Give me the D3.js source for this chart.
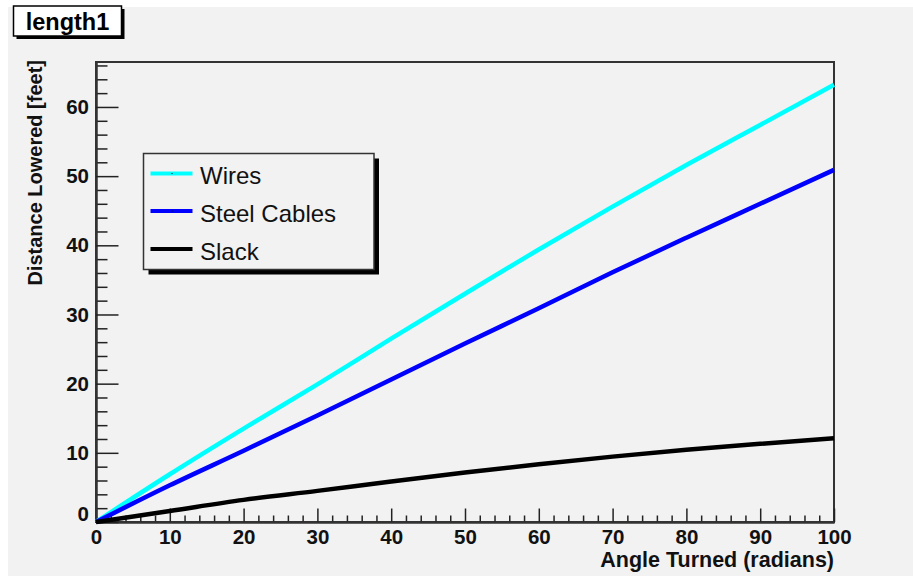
<!DOCTYPE html>
<html>
<head>
<meta charset="utf-8">
<script src="https://cdn.jsdelivr.net/npm/d3@7"></script>
<style>
  html, body { margin: 0; padding: 0; background: #fff; }
  svg { display: block; font-family: "Liberation Sans", Arial, Helvetica, sans-serif; }
</style>
</head>
<body>
<script>
// Angle turned (radians) at which each curve was sampled
const angle = [0, 10, 20, 30, 40, 50, 60, 70, 80, 90, 100];
// Distance lowered (feet)
const wires = [0, 6.9, 13.5, 19.9, 26.5, 33.0, 39.4, 45.6, 51.6, 57.4, 63.2];
const steelCables = [0, 5.3, 10.3, 15.4, 20.6, 25.8, 30.9, 36.1, 41.1, 46.0, 50.9];
const slack = [0, 1.6, 3.2, 4.5, 5.85, 7.15, 8.35, 9.45, 10.45, 11.3, 12.1];

const seriesNames = ["Wires", "Steel Cables", "Slack"];
const seriesColors = ["#00ffff", "#0000ff", "#000000"];
const seriesValues = [wires, steelCables, slack];

const xMajorTicks = [0, 10, 20, 30, 40, 50, 60, 70, 80, 90, 100];
const yMajorTicks = [0, 10, 20, 30, 40, 50, 60];
const titleText = "length1";
const xTitle = "Angle Turned (radians)";
const yTitle = "Distance Lowered [feet]";

const W = 913, H = 576;
const frame = { left: 96, right: 834, top: 62, bottom: 522 };

const svg = d3.select("body").append("svg").attr("width", W).attr("height", H);

// canvas
svg.append("rect").attr("width", W).attr("height", H).attr("fill", "#fff");
svg.append("rect").attr("x", 8).attr("y", 7).attr("width", W - 8).attr("height", H - 7).attr("fill", "#f2f2f2");

const x = d3.scaleLinear().domain([0, 100]).range([frame.left, frame.right]);
const y = d3.scaleLinear().domain([0, 66.5]).range([frame.bottom, frame.top]);

// frame border
svg.append("rect")
  .attr("x", frame.left).attr("y", frame.top)
  .attr("width", frame.right - frame.left).attr("height", frame.bottom - frame.top)
  .attr("fill", "none").attr("stroke", "#333").attr("stroke-width", 2);

// minor ticks every 2 units
const xMinor = d3.range(0, 101, 2).filter(v => v % 10 !== 0);
const yMinor = d3.range(0, 67, 2).filter(v => v % 10 !== 0);

const gx = svg.append("g").attr("transform", `translate(0,${frame.bottom})`);
gx.append("g").call(d3.axisBottom(x).tickValues(xMinor).tickFormat("").tickSizeInner(-6.5).tickSizeOuter(0));
gx.append("g").attr("class", "major")
  .call(d3.axisBottom(x).tickValues(xMajorTicks).tickFormat(d3.format("d")).tickSizeInner(-13.5).tickSizeOuter(0).tickPadding(7));

const gy = svg.append("g").attr("transform", `translate(${frame.left},0)`);
gy.append("g").call(d3.axisLeft(y).tickValues(yMinor).tickFormat("").tickSizeInner(-11.5).tickSizeOuter(0));
gy.append("g").attr("class", "major")
  .call(d3.axisLeft(y).tickValues(yMajorTicks).tickFormat(d3.format("d")).tickSizeInner(-22.5).tickSizeOuter(0).tickPadding(7));

svg.selectAll(".domain").attr("stroke", "#333").attr("stroke-width", 2);
svg.selectAll(".tick line").attr("stroke", "#222").attr("stroke-width", 1.5);
svg.selectAll(".major text")
  .attr("font-size", 20.5).attr("font-weight", "bold").attr("fill", "#111")
  .attr("font-family", "'Liberation Sans', Arial, sans-serif");
// the origin label on the y axis sits a little above the x axis labels
gy.select(".major").selectAll(".tick").filter(d => d === 0).select("text").attr("dy", "-0.05em");

// curves
const line = d3.line().x((d, i) => x(angle[i])).y(d => y(d)).curve(d3.curveMonotoneX);
seriesValues.forEach((vals, k) => {
  svg.append("path")
    .datum(vals)
    .attr("d", line)
    .attr("fill", "none")
    .attr("stroke", seriesColors[k])
    .attr("stroke-width", 4.5)
    .attr("stroke-linejoin", "round");
});

// axis titles
svg.append("text")
  .attr("x", frame.right).attr("y", 567)
  .attr("text-anchor", "end")
  .attr("font-size", 21.5).attr("font-weight", "bold").attr("fill", "#111")
  .text(xTitle);

svg.append("text")
  .attr("transform", `translate(42,${frame.top - 2}) rotate(-90)`)
  .attr("text-anchor", "end")
  .attr("font-size", 20).attr("font-weight", "bold").attr("fill", "#111")
  .text(yTitle);

// title box
const tb = { x: 13.5, y: 6, w: 108, h: 30 };
svg.append("rect").attr("x", tb.x + 3).attr("y", tb.y + 3).attr("width", tb.w).attr("height", tb.h).attr("fill", "#000");
svg.append("rect").attr("x", tb.x).attr("y", tb.y).attr("width", tb.w).attr("height", tb.h)
  .attr("fill", "#fff").attr("stroke", "#000").attr("stroke-width", 1.5);
svg.append("text")
  .attr("x", tb.x + tb.w / 2).attr("y", 29.5)
  .attr("text-anchor", "middle")
  .attr("font-size", 23.5).attr("font-weight", "bold").attr("fill", "#000")
  .text(titleText);

// legend
const lg = { x: 143.5, y: 153.5, w: 230.5, h: 116 };
svg.append("rect").attr("x", lg.x + 5).attr("y", lg.y + 5).attr("width", lg.w).attr("height", lg.h).attr("fill", "#000");
svg.append("rect").attr("x", lg.x).attr("y", lg.y).attr("width", lg.w).attr("height", lg.h)
  .attr("fill", "#f2f2f2").attr("stroke", "#333").attr("stroke-width", 1.5);

const rowY = [173.5, 211, 249];
const entries = svg.append("g").selectAll("g").data(seriesNames).join("g")
  .attr("transform", (d, i) => `translate(0,${rowY[i]})`);
entries.append("line")
  .attr("x1", 150.5).attr("x2", 192.5)
  .attr("stroke", (d, i) => seriesColors[i]).attr("stroke-width", 4);
entries.filter((d, i) => i < 2).append("rect")
  .attr("x", 171.5).attr("y", -0.5).attr("width", 1).attr("height", 1).attr("fill", "#000");
entries.append("text")
  .attr("x", 200).attr("y", 10.8)
  .attr("font-size", 24).attr("fill", "#111")
  .text(d => d);
</script>
</body>
</html>
